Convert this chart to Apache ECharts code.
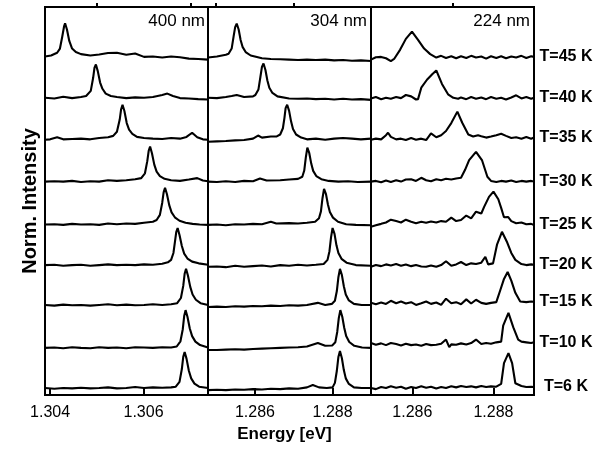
<!DOCTYPE html>
<html>
<head>
<meta charset="utf-8">
<script src="https://cdn.jsdelivr.net/npm/echarts@6/dist/echarts.min.js"></script>
<style>
  html, body { margin: 0; padding: 0; background: #fff; }
  #myChart { width: 607px; height: 453px; }
</style>
</head>
<body>
<div id="myChart"></div>
<script>
// temperatures, bottom trace first
var temps = ['T=6 K', 'T=10 K', 'T=15 K', 'T=20 K', 'T=25 K', 'T=30 K', 'T=35 K', 'T=40 K', 'T=45 K'];
var offsetStep = 1.2; // vertical shift between spectra
var panelNames = ['400 nm', '304 nm', '224 nm'];
var xMins = [1.30389, 1.28479, 1.28498];
var xMaxs = [1.30738, 1.28899, 1.28900];
var majorTicks = [[1.304, 1.306], [1.286, 1.288], [1.286, 1.288]];
var minorTicks = [[1.305, 1.307], [1.285, 1.287], [1.287]];

// 400 nm spectra [energy eV, norm. intensity], T=6 K ... T=45 K
var spec400 = [
  [[1.30389,0.0],[1.30409,-0.02],[1.30428,0.0],[1.30447,-0.01],[1.30466,0.01],[1.30486,-0.01],[1.30505,0.0],[1.30524,0.02],[1.30543,-0.01],[1.30563,0.0],[1.30582,0.03],[1.30601,0.0],[1.30620,0.02],[1.30640,0.01],[1.30659,0.02],[1.30669,0.04],[1.30677,0.18],[1.30682,0.55],[1.30685,0.9],[1.30688,1.04],[1.30692,0.85],[1.30697,0.5],[1.30702,0.28],[1.30709,0.13],[1.30719,0.04],[1.30738,0.0]],
  [[1.30389,-0.04],[1.30409,-0.03],[1.30428,-0.05],[1.30447,-0.02],[1.30466,-0.04],[1.30486,-0.05],[1.30505,-0.02],[1.30524,-0.04],[1.30543,-0.03],[1.30563,-0.05],[1.30582,-0.02],[1.30601,-0.03],[1.30620,-0.04],[1.30640,-0.02],[1.30659,-0.03],[1.30671,0.0],[1.30679,0.15],[1.30684,0.5],[1.30687,0.88],[1.30690,1.05],[1.30694,0.86],[1.30699,0.52],[1.30704,0.3],[1.30711,0.14],[1.30721,0.04],[1.30738,-0.03]],
  [[1.30389,0.0],[1.30409,-0.02],[1.30428,0.01],[1.30447,-0.01],[1.30466,0.0],[1.30486,-0.02],[1.30505,0.0],[1.30524,0.02],[1.30543,-0.01],[1.30563,0.01],[1.30582,-0.01],[1.30601,0.0],[1.30620,0.02],[1.30640,0.0],[1.30659,0.02],[1.30672,0.05],[1.30680,0.2],[1.30685,0.55],[1.30688,0.9],[1.30691,1.04],[1.30695,0.85],[1.30700,0.52],[1.30705,0.3],[1.30712,0.15],[1.30722,0.05],[1.30738,0.0]],
  [[1.30389,-0.05],[1.30409,-0.04],[1.30428,-0.07],[1.30447,-0.05],[1.30466,-0.04],[1.30486,-0.07],[1.30505,-0.05],[1.30524,-0.03],[1.30543,-0.05],[1.30563,-0.04],[1.30582,-0.05],[1.30601,-0.03],[1.30620,-0.04],[1.30640,-0.01],[1.30652,0.03],[1.30659,0.1],[1.30664,0.3],[1.30667,0.6],[1.30670,0.9],[1.30673,1.02],[1.30677,0.82],[1.30682,0.5],[1.30687,0.28],[1.30694,0.14],[1.30704,0.05],[1.30718,0.0],[1.30738,-0.04]],
  [[1.30389,-0.08],[1.30409,-0.07],[1.30428,-0.09],[1.30447,-0.06],[1.30466,-0.08],[1.30486,-0.07],[1.30505,-0.09],[1.30524,-0.05],[1.30543,-0.07],[1.30563,-0.05],[1.30582,-0.06],[1.30601,-0.03],[1.30620,0.0],[1.30628,0.05],[1.30635,0.2],[1.30640,0.55],[1.30643,0.85],[1.30646,0.98],[1.30650,0.8],[1.30655,0.48],[1.30660,0.27],[1.30667,0.13],[1.30677,0.03],[1.30690,-0.03],[1.30705,-0.06],[1.30720,-0.08],[1.30738,-0.09]],
  [[1.30389,-0.04],[1.30409,-0.03],[1.30428,-0.04],[1.30447,-0.02],[1.30466,-0.05],[1.30486,-0.03],[1.30505,-0.04],[1.30524,0.0],[1.30543,-0.02],[1.30563,0.0],[1.30582,0.03],[1.30595,0.06],[1.30603,0.2],[1.30608,0.55],[1.30611,0.85],[1.30614,0.97],[1.30618,0.78],[1.30623,0.45],[1.30628,0.25],[1.30635,0.12],[1.30645,0.04],[1.30659,0.0],[1.30678,-0.02],[1.30697,0.02],[1.30715,0.06],[1.30727,-0.01],[1.30738,-0.03]],
  [[1.30389,-0.03],[1.30400,-0.02],[1.30415,0.04],[1.30428,-0.02],[1.30447,-0.01],[1.30466,0.0],[1.30486,-0.02],[1.30505,0.02],[1.30524,0.04],[1.30535,0.08],[1.30543,0.2],[1.30549,0.55],[1.30552,0.85],[1.30555,0.98],[1.30559,0.8],[1.30564,0.45],[1.30569,0.26],[1.30576,0.14],[1.30586,0.05],[1.30601,0.02],[1.30620,0.0],[1.30640,-0.01],[1.30659,0.02],[1.30678,0.0],[1.30692,0.05],[1.30704,0.17],[1.30715,0.04],[1.30727,-0.02],[1.30738,-0.03]],
  [[1.30389,-0.02],[1.30409,-0.04],[1.30428,0.01],[1.30447,-0.03],[1.30466,0.0],[1.30477,0.03],[1.30487,0.18],[1.30492,0.55],[1.30495,0.85],[1.30498,0.94],[1.30502,0.75],[1.30507,0.42],[1.30512,0.24],[1.30519,0.1],[1.30530,0.03],[1.30543,0.0],[1.30563,-0.03],[1.30582,-0.01],[1.30601,-0.02],[1.30620,0.0],[1.30640,0.06],[1.30651,0.1],[1.30663,0.03],[1.30678,-0.03],[1.30697,-0.04],[1.30717,-0.06],[1.30738,-0.07]],
  [[1.30389,-0.03],[1.30402,0.0],[1.30415,0.08],[1.30421,0.2],[1.30426,0.55],[1.30430,0.85],[1.30432,0.93],[1.30436,0.75],[1.30441,0.42],[1.30447,0.2],[1.30455,0.1],[1.30466,0.04],[1.30486,0.0],[1.30505,0.03],[1.30524,0.07],[1.30543,0.08],[1.30563,0.02],[1.30582,0.06],[1.30601,-0.04],[1.30620,-0.03],[1.30640,-0.06],[1.30659,-0.03],[1.30678,-0.05],[1.30697,-0.09],[1.30717,-0.1],[1.30738,-0.12]]
];

// 304 nm spectra
var spec304 = [
  [[1.28479,-0.06],[1.28502,-0.05],[1.28525,-0.06],[1.28549,-0.04],[1.28572,-0.05],[1.28595,-0.03],[1.28618,-0.04],[1.28641,-0.02],[1.28665,-0.03],[1.28688,-0.01],[1.28711,-0.02],[1.28734,0.02],[1.28749,0.09],[1.28765,0.02],[1.28785,0.0],[1.28800,0.02],[1.28806,0.15],[1.28811,0.5],[1.28815,0.9],[1.28819,1.07],[1.28824,0.86],[1.28829,0.52],[1.28834,0.28],[1.28842,0.12],[1.28855,0.02],[1.28875,0.0],[1.28899,0.0]],
  [[1.28479,-0.1],[1.28502,-0.1],[1.28525,-0.09],[1.28549,-0.08],[1.28572,-0.09],[1.28595,-0.07],[1.28618,-0.06],[1.28641,-0.05],[1.28665,-0.04],[1.28688,-0.03],[1.28711,-0.02],[1.28734,0.0],[1.28762,0.1],[1.28781,0.02],[1.28799,0.03],[1.28807,0.12],[1.28812,0.42],[1.28816,0.82],[1.28820,1.05],[1.28825,0.86],[1.28830,0.54],[1.28835,0.3],[1.28843,0.13],[1.28856,0.02],[1.28876,-0.03],[1.28899,-0.04]],
  [[1.28479,-0.06],[1.28502,-0.05],[1.28525,-0.06],[1.28549,-0.04],[1.28572,-0.05],[1.28595,-0.03],[1.28618,-0.04],[1.28641,-0.02],[1.28665,-0.03],[1.28688,-0.01],[1.28711,-0.02],[1.28734,0.0],[1.28762,0.06],[1.28781,0.0],[1.28798,0.03],[1.28806,0.12],[1.28811,0.4],[1.28815,0.8],[1.28819,1.04],[1.28824,0.86],[1.28829,0.54],[1.28834,0.3],[1.28842,0.13],[1.28855,0.03],[1.28875,0.0],[1.28899,0.0]],
  [[1.28479,-0.1],[1.28502,-0.09],[1.28525,-0.11],[1.28549,-0.07],[1.28572,-0.1],[1.28595,-0.08],[1.28618,-0.06],[1.28641,-0.09],[1.28665,-0.05],[1.28688,-0.07],[1.28711,-0.04],[1.28734,-0.06],[1.28757,-0.04],[1.28777,-0.02],[1.28787,0.1],[1.28792,0.35],[1.28796,0.75],[1.28800,1.02],[1.28805,0.85],[1.28810,0.52],[1.28815,0.3],[1.28823,0.13],[1.28836,0.02],[1.28860,-0.05],[1.28899,-0.07]],
  [[1.28479,-0.09],[1.28502,-0.08],[1.28525,-0.1],[1.28549,-0.07],[1.28572,-0.08],[1.28595,-0.06],[1.28618,-0.07],[1.28641,0.0],[1.28655,-0.05],[1.28688,-0.04],[1.28711,-0.05],[1.28734,-0.03],[1.28755,0.0],[1.28765,0.1],[1.28770,0.3],[1.28774,0.68],[1.28778,0.95],[1.28783,0.8],[1.28788,0.5],[1.28793,0.28],[1.28801,0.12],[1.28814,0.0],[1.28835,-0.07],[1.28860,-0.09],[1.28899,-0.1]],
  [[1.28479,-0.04],[1.28502,-0.05],[1.28525,-0.03],[1.28549,-0.05],[1.28572,-0.02],[1.28595,-0.03],[1.28613,0.05],[1.28630,-0.01],[1.28665,0.0],[1.28688,0.02],[1.28711,0.04],[1.28722,0.1],[1.28727,0.28],[1.28731,0.65],[1.28735,0.94],[1.28740,0.78],[1.28745,0.48],[1.28750,0.27],[1.28758,0.12],[1.28771,0.03],[1.28790,-0.02],[1.28815,-0.04],[1.28840,-0.03],[1.28865,-0.05],[1.28899,-0.04]],
  [[1.28479,-0.09],[1.28502,-0.08],[1.28525,-0.07],[1.28549,-0.05],[1.28572,-0.04],[1.28595,0.0],[1.28608,0.09],[1.28618,0.03],[1.28641,0.06],[1.28655,0.06],[1.28665,0.12],[1.28672,0.3],[1.28676,0.6],[1.28679,0.88],[1.28683,0.98],[1.28688,0.8],[1.28693,0.5],[1.28698,0.28],[1.28706,0.12],[1.28719,0.03],[1.28734,-0.02],[1.28757,0.0],[1.28781,-0.03],[1.28804,0.0],[1.28827,0.02],[1.28850,0.0],[1.28873,-0.02],[1.28899,0.0]],
  [[1.28479,-0.02],[1.28502,-0.03],[1.28525,0.0],[1.28540,0.03],[1.28553,0.06],[1.28572,0.0],[1.28595,0.02],[1.28601,0.06],[1.28609,0.22],[1.28614,0.58],[1.28618,0.87],[1.28622,0.97],[1.28627,0.78],[1.28632,0.48],[1.28637,0.27],[1.28645,0.12],[1.28658,0.02],[1.28688,-0.04],[1.28711,-0.05],[1.28734,-0.04],[1.28757,-0.06],[1.28781,-0.05],[1.28804,-0.07],[1.28827,-0.05],[1.28850,-0.07],[1.28873,-0.06],[1.28899,-0.08]],
  [[1.28479,-0.06],[1.28502,-0.03],[1.28525,0.02],[1.28532,0.05],[1.28540,0.2],[1.28545,0.55],[1.28549,0.82],[1.28553,0.92],[1.28558,0.75],[1.28563,0.45],[1.28568,0.25],[1.28576,0.1],[1.28589,0.0],[1.28618,-0.08],[1.28641,-0.1],[1.28665,-0.11],[1.28688,-0.12],[1.28711,-0.13],[1.28734,-0.12],[1.28757,-0.13],[1.28781,-0.12],[1.28804,-0.14],[1.28827,-0.13],[1.28850,-0.15],[1.28873,-0.14],[1.28899,-0.16]]
];

// 224 nm spectra
var spec224 = [
  [[1.28498,0.0],[1.28510,-0.03],[1.28523,0.03],[1.28535,0.0],[1.28547,0.05],[1.28560,0.01],[1.28572,0.04],[1.28584,-0.02],[1.28597,0.03],[1.28609,0.0],[1.28622,0.05],[1.28634,0.01],[1.28646,0.04],[1.28659,-0.01],[1.28671,0.03],[1.28683,0.0],[1.28696,0.05],[1.28708,0.02],[1.28720,0.06],[1.28733,0.03],[1.28745,0.05],[1.28757,0.02],[1.28770,0.06],[1.28782,0.03],[1.28794,0.05],[1.28807,0.04],[1.28819,0.12],[1.28826,0.72],[1.28837,1.01],[1.28846,0.72],[1.28854,0.14],[1.28869,0.06],[1.28881,0.03],[1.28893,0.04],[1.28900,0.03]],
  [[1.28498,0.1],[1.28510,0.05],[1.28523,0.09],[1.28535,0.04],[1.28547,0.1],[1.28560,0.07],[1.28572,0.03],[1.28584,0.08],[1.28597,0.04],[1.28609,0.06],[1.28622,0.02],[1.28634,0.07],[1.28646,0.04],[1.28659,0.05],[1.28671,0.08],[1.28683,0.2],[1.28691,-0.02],[1.28696,0.06],[1.28708,0.05],[1.28720,0.09],[1.28733,0.06],[1.28745,0.1],[1.28757,0.2],[1.28770,0.07],[1.28782,0.1],[1.28794,0.08],[1.28807,0.12],[1.28819,0.14],[1.28824,0.6],[1.28837,0.97],[1.28849,0.55],[1.28861,0.2],[1.28869,0.14],[1.28881,0.12],[1.28893,0.1],[1.28900,0.12]],
  [[1.28498,0.06],[1.28510,0.02],[1.28523,0.07],[1.28535,0.03],[1.28547,0.12],[1.28560,0.05],[1.28572,0.1],[1.28584,0.04],[1.28597,0.08],[1.28609,0.0],[1.28622,0.05],[1.28634,0.1],[1.28646,0.03],[1.28659,0.07],[1.28671,0.0],[1.28683,0.18],[1.28696,0.05],[1.28708,0.08],[1.28720,0.02],[1.28733,0.16],[1.28745,0.04],[1.28757,0.15],[1.28770,0.06],[1.28782,0.03],[1.28794,0.06],[1.28807,0.08],[1.28817,0.43],[1.28826,0.75],[1.28835,0.95],[1.28844,0.7],[1.28854,0.35],[1.28866,0.1],[1.28881,0.08],[1.28893,0.1],[1.28900,0.09]],
  [[1.28498,-0.1],[1.28510,-0.05],[1.28523,-0.08],[1.28535,-0.03],[1.28547,-0.06],[1.28560,-0.02],[1.28572,-0.07],[1.28584,-0.03],[1.28597,-0.08],[1.28609,-0.05],[1.28622,-0.09],[1.28634,-0.1],[1.28646,-0.06],[1.28659,-0.1],[1.28671,-0.05],[1.28683,0.06],[1.28696,-0.07],[1.28708,-0.03],[1.28720,0.04],[1.28733,-0.05],[1.28745,0.0],[1.28757,-0.02],[1.28770,0.02],[1.28780,0.19],[1.28787,-0.03],[1.28799,0.0],[1.28809,0.55],[1.28821,0.91],[1.28834,0.6],[1.28844,0.3],[1.28854,0.1],[1.28869,-0.02],[1.28881,-0.05],[1.28893,-0.03],[1.28900,-0.04]],
  [[1.28498,-0.14],[1.28510,-0.1],[1.28523,-0.06],[1.28535,-0.02],[1.28547,0.06],[1.28560,0.02],[1.28572,-0.02],[1.28584,0.06],[1.28597,0.0],[1.28609,-0.04],[1.28622,0.0],[1.28634,-0.03],[1.28646,0.01],[1.28659,-0.02],[1.28671,0.02],[1.28683,0.0],[1.28696,0.12],[1.28708,0.02],[1.28720,0.05],[1.28733,0.18],[1.28745,0.1],[1.28757,0.29],[1.28770,0.24],[1.28777,0.43],[1.28789,0.72],[1.28800,0.87],[1.28812,0.65],[1.28819,0.4],[1.28826,0.13],[1.28836,0.14],[1.28844,0.02],[1.28856,-0.04],[1.28869,-0.02],[1.28881,-0.07],[1.28893,-0.06],[1.28900,-0.09]],
  [[1.28498,-0.04],[1.28510,-0.02],[1.28523,-0.06],[1.28535,-0.01],[1.28547,-0.05],[1.28560,0.0],[1.28572,-0.04],[1.28584,0.02],[1.28597,0.03],[1.28609,-0.02],[1.28622,0.07],[1.28634,0.0],[1.28646,-0.03],[1.28659,0.03],[1.28671,0.0],[1.28683,0.04],[1.28696,0.02],[1.28708,0.05],[1.28720,0.07],[1.28730,0.3],[1.28740,0.58],[1.28757,0.82],[1.28772,0.57],[1.28785,0.1],[1.28794,-0.02],[1.28807,-0.05],[1.28819,-0.02],[1.28831,-0.04],[1.28844,-0.01],[1.28856,-0.05],[1.28869,-0.02],[1.28881,-0.04],[1.28893,-0.02],[1.28900,-0.04]],
  [[1.28498,-0.03],[1.28510,0.0],[1.28523,-0.02],[1.28535,0.1],[1.28540,0.17],[1.28547,0.05],[1.28560,-0.02],[1.28572,0.0],[1.28584,-0.04],[1.28597,0.02],[1.28609,-0.03],[1.28622,0.0],[1.28634,-0.04],[1.28646,0.15],[1.28659,0.04],[1.28671,0.1],[1.28683,0.22],[1.28696,0.45],[1.28711,0.78],[1.28723,0.46],[1.28738,0.12],[1.28750,0.06],[1.28762,0.1],[1.28770,0.07],[1.28782,0.03],[1.28794,0.06],[1.28807,0.1],[1.28819,0.14],[1.28831,0.08],[1.28844,0.02],[1.28856,0.04],[1.28869,0.0],[1.28881,0.05],[1.28893,0.0],[1.28900,0.03]],
  [[1.28498,-0.04],[1.28510,0.0],[1.28523,-0.06],[1.28535,-0.02],[1.28547,-0.05],[1.28560,0.0],[1.28572,-0.03],[1.28584,0.06],[1.28597,0.02],[1.28609,-0.07],[1.28614,-0.06],[1.28622,0.27],[1.28636,0.5],[1.28649,0.66],[1.28659,0.77],[1.28673,0.38],[1.28688,0.08],[1.28701,-0.02],[1.28713,-0.05],[1.28720,-0.01],[1.28733,-0.06],[1.28745,0.0],[1.28757,-0.05],[1.28770,-0.01],[1.28782,-0.06],[1.28794,0.0],[1.28807,-0.05],[1.28819,-0.02],[1.28831,-0.07],[1.28844,-0.01],[1.28856,0.05],[1.28869,-0.04],[1.28881,0.0],[1.28893,-0.05],[1.28900,-0.02]],
  [[1.28498,-0.12],[1.28510,-0.05],[1.28523,-0.04],[1.28535,-0.08],[1.28547,-0.16],[1.28555,-0.1],[1.28570,0.17],[1.28584,0.48],[1.28599,0.69],[1.28614,0.45],[1.28629,0.2],[1.28644,0.04],[1.28659,-0.06],[1.28671,-0.01],[1.28683,-0.07],[1.28696,-0.02],[1.28708,-0.08],[1.28720,-0.02],[1.28733,-0.07],[1.28745,-0.01],[1.28757,-0.06],[1.28770,-0.03],[1.28782,-0.09],[1.28794,-0.02],[1.28807,-0.07],[1.28819,-0.02],[1.28831,-0.08],[1.28844,-0.03],[1.28856,-0.06],[1.28869,-0.01],[1.28881,-0.07],[1.28893,-0.02],[1.28900,-0.04]]
];

var allSpectra = [spec400, spec304, spec224];
var fontName = 'Liberation Sans, Arial, sans-serif';
var gridLefts = [45, 208, 371];
var titleRights = [402, 240, 77];

var grids = [], xAxes = [], yAxes = [], series = [], titles = [];
for (var p = 0; p < 3; p++) {
  grids.push({
    left: gridLefts[p], top: 7, width: 163, height: 388,
    show: true, borderColor: '#000', borderWidth: 2
  });
  titles.push({
    text: panelNames[p], right: titleRights[p], top: 13, padding: 0,
    textStyle: { fontFamily: fontName, fontSize: 17, fontWeight: 'normal', color: '#000' }
  });
  xAxes.push({
    type: 'value', gridIndex: p, min: xMins[p], max: xMaxs[p],
    axisLine: { show: false },
    splitLine: { show: false },
    axisTick: { show: true, length: 7, customValues: majorTicks[p], lineStyle: { color: '#000', width: 2 } },
    axisLabel: {
      customValues: majorTicks[p], margin: 10, color: '#000', fontSize: 16, fontFamily: fontName,
      formatter: function (v) { return v.toFixed(3); }
    },
    name: p === 1 ? 'Energy [eV]' : '',
    nameLocation: 'middle', nameGap: 25,
    nameTextStyle: { fontFamily: fontName, fontSize: 17, fontWeight: 'bold', color: '#000', padding: [0, 10, 0, 0] }
  });
  yAxes.push({
    type: 'value', gridIndex: p, min: -0.2, max: 11.0,
    axisLine: { show: false }, axisTick: { show: false }, axisLabel: { show: false },
    splitLine: { show: false },
    name: p === 0 ? 'Norm. Intensity' : '',
    nameLocation: 'middle', nameGap: 5,
    nameTextStyle: { fontFamily: fontName, fontSize: 20, fontWeight: 'bold', color: '#000' }
  });
}
// minor ticks
for (var p = 0; p < 3; p++) {
  xAxes.push({
    type: 'value', gridIndex: p, min: xMins[p], max: xMaxs[p],
    axisLine: { show: false }, splitLine: { show: false }, axisLabel: { show: false },
    axisTick: { show: true, length: 4, customValues: minorTicks[p], lineStyle: { color: '#000', width: 2 } }
  });
}

for (var p = 0; p < 3; p++) {
  var spectra = allSpectra[p];
  for (var k = 0; k < spectra.length; k++) {
    var shift = k * offsetStep;
    var s = {
      type: 'line', name: temps[k], xAxisIndex: p, yAxisIndex: p,
      data: spectra[k].map(function (pt) { return [pt[0], pt[1] + shift]; }),
      showSymbol: false, silent: true,
      lineStyle: { color: '#000', width: 2.1 }
    };
    if (p === 2) {
      s.endLabel = {
        show: true, formatter: temps[k], distance: 32, align: 'center',
        fontFamily: fontName, fontSize: 16, fontWeight: 'bold', color: '#000'
      };
    }
    series.push(s);
  }
}

var myChart = echarts.init(document.getElementById('myChart'));
myChart.setOption({
  animation: false,
  backgroundColor: '#fff',
  title: titles,
  grid: grids,
  xAxis: xAxes,
  yAxis: yAxes,
  series: series
});
</script>
</body>
</html>
